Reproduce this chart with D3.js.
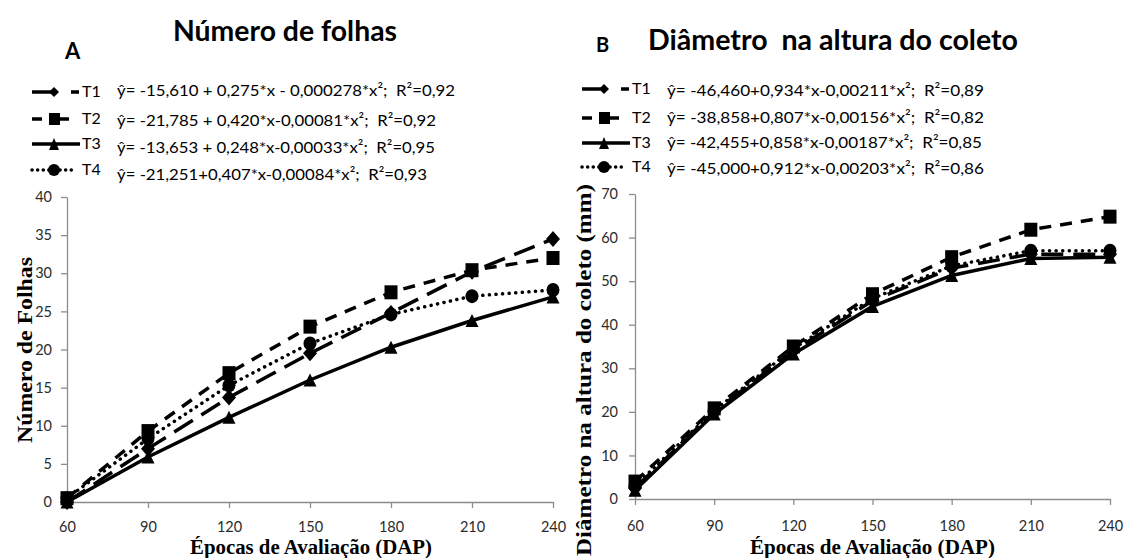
<!DOCTYPE html>
<html>
<head>
<meta charset="utf-8">
<script src="https://cdn.jsdelivr.net/npm/d3@7"></script>
<style>
  html, body { margin: 0; padding: 0; background: #fff; }
  svg { display: block; }
</style>
</head>
<body>
<svg id="chart" width="1126" height="558"></svg>
<script>
// Evaluation times (days after planting)
const dap = [60, 90, 120, 150, 180, 210, 240];

// Panel A – number of leaves per treatment
const folhasT1 = [0, 7.0, 13.7, 19.5, 24.8, 30.2, 34.5];
const folhasT2 = [0.5, 9.3, 16.9, 23.0, 27.5, 30.4, 32.0];
const folhasT3 = [0, 5.9, 11.1, 16.0, 20.3, 23.8, 26.9];
const folhasT4 = [0.5, 8.3, 15.3, 20.8, 24.6, 27.0, 27.8];

// Panel B – collar diameter (mm) per treatment
const diamT1 = [2.5, 20.0, 34.0, 45.5, 53.0, 56.2, 56.2];
const diamT2 = [4.0, 20.8, 35.0, 47.0, 55.5, 61.8, 64.8];
const diamT3 = [2.0, 19.5, 33.3, 44.2, 51.3, 55.2, 55.5];
const diamT4 = [3.0, 20.3, 34.5, 46.0, 53.5, 57.0, 57.0];

const treatments = ["T1", "T2", "T3", "T4"];

const ticksFolhas = [0, 5, 10, 15, 20, 25, 30, 35, 40];
const ticksDiam = [0, 10, 20, 30, 40, 50, 60, 70];

// Fitted regression equations (non-breaking space keeps the double gap before R²)
const eqFolhas = [
  "ŷ= -15,610 + 0,275*x - 0,000278*x²;\u00a0 R²=0,92",
  "ŷ= -21,785 + 0,420*x-0,00081*x²;\u00a0 R²=0,92",
  "ŷ= -13,653 + 0,248*x-0,00033*x²;\u00a0 R²=0,95",
  "ŷ= -21,251+0,407*x-0,00084*x²;\u00a0 R²=0,93"
];
const eqDiam = [
  "ŷ= -46,460+0,934*x-0,00211*x²;\u00a0 R²=0,89",
  "ŷ= -38,858+0,807*x-0,00156*x²;\u00a0 R²=0,82",
  "ŷ= -42,455+0,858*x-0,00187*x²;\u00a0 R²=0,85",
  "ŷ= -45,000+0,912*x-0,00203*x²;\u00a0 R²=0,86"
];

const svg = d3.select("#chart");
svg.append("rect").attr("width", 1126).attr("height", 558).attr("fill", "#fff");

const sansFont = "Lato, 'Open Sans', sans-serif";
const serifFont = "'Liberation Serif', 'DejaVu Serif', serif";

// Line styles per treatment
const lineStyle = {
  T1: { dash: "22,10", cap: "butt" },
  T2: { dash: "12,9", cap: "butt" },
  T3: { dash: null, cap: "butt" },
  T4: { dash: "0.1,6.5", cap: "round" }
};
const legendDash = {
  T1: "22,17",
  T2: "10,7,20",
  T3: null,
  T4: "0.1,5.5"
};

// Marker shapes (half width w, half height h)
function marker(g, kind, cx, cy, w, h) {
  if (kind === "T1") {
    g.append("path").attr("d", `M${cx},${cy - h}L${cx + w},${cy}L${cx},${cy + h}L${cx - w},${cy}Z`).attr("fill", "#000");
  } else if (kind === "T2") {
    g.append("rect").attr("x", cx - w).attr("y", cy - h).attr("width", 2 * w).attr("height", 2 * h).attr("fill", "#000");
  } else if (kind === "T3") {
    g.append("path").attr("d", `M${cx},${cy - h}L${cx + w},${cy + h}L${cx - w},${cy + h}Z`).attr("fill", "#000");
  } else {
    g.append("ellipse").attr("cx", cx).attr("cy", cy).attr("rx", w).attr("ry", h).attr("fill", "#000");
  }
}
const plotMarkerSize = { T1: [7, 8], T2: [6.5, 7], T3: [6.5, 6.5], T4: [6.5, 7] };
const legendMarkerSize = { T1: [5, 5], T2: [5.5, 6], T3: [5, 6], T4: [6, 6] };

function drawPanel(opt) {
  const x = d3.scaleLinear().domain([60, 240]).range(opt.xRange);
  const y = d3.scaleLinear().domain([0, opt.yMax]).range(opt.yRange);
  const g = svg.append("g");

  // Axes
  const yAxis = d3.axisLeft(y).tickValues(opt.yTicks).tickSize(6).tickSizeOuter(0).tickPadding(opt.yPad);
  const xAxis = d3.axisBottom(x).tickValues(dap).tickSize(6).tickSizeOuter(0).tickPadding(opt.xPad);
  const ya = g.append("g").attr("transform", `translate(${opt.xRange[0]},0)`).call(yAxis);
  const xa = g.append("g").attr("transform", `translate(0,${opt.yRange[0]})`).call(xAxis);
  [ya, xa].forEach(a => {
    a.selectAll("path.domain, line").attr("stroke", "#8c8c8c").attr("stroke-width", 1.3);
    a.selectAll("text").attr("font-family", sansFont).attr("font-size", 14.5).attr("fill", "#2b2b2b");
  });

  // Series lines
  const line = d3.line().x((d, i) => x(dap[i])).y(d => y(d));
  opt.series.forEach((vals, k) => {
    const t = treatments[k];
    g.append("path")
      .attr("d", line(vals))
      .attr("fill", "none")
      .attr("stroke", "#000")
      .attr("stroke-width", 3.5)
      .attr("stroke-linecap", lineStyle[t].cap)
      .attr("stroke-dasharray", lineStyle[t].dash);
  });
  // Markers on top
  opt.series.forEach((vals, k) => {
    const t = treatments[k];
    const mg = g.append("g");
    vals.forEach((v, i) => marker(mg, t, x(dap[i]), y(v), plotMarkerSize[t][0], plotMarkerSize[t][1]));
  });

  // Legend
  const lx = opt.legendX;
  treatments.forEach((t, k) => {
    const base = opt.legendBase[k];
    const cy = base - 5;
    const lg = g.append("g");
    const x2 = t === "T1" ? lx + 47 : t === "T2" ? lx + 37 : t === "T3" ? lx + 48 : lx + 40;
    lg.append("line")
      .attr("x1", lx).attr("x2", x2).attr("y1", cy).attr("y2", cy)
      .attr("stroke", "#000").attr("stroke-width", 3.5)
      .attr("stroke-linecap", t === "T4" ? "round" : "butt")
      .attr("stroke-dasharray", legendDash[t]);
    const mx = t === "T2" ? lx + 22.5 : lx + 22;
    marker(lg, t, mx, cy, legendMarkerSize[t][0], legendMarkerSize[t][1]);
    lg.append("text").attr("x", lx + 50).attr("y", base)
      .attr("font-family", sansFont).attr("font-size", 16).attr("fill", "#000").text(t);
    g.append("text").attr("x", opt.eqX).attr("y", opt.eqBase[k])
      .attr("font-family", sansFont).attr("font-size", 16).attr("fill", "#000")
      .attr("textLength", opt.eqLen[k]).attr("lengthAdjust", "spacingAndGlyphs")
      .text(opt.eqs[k]);
  });

  // Titles
  g.append("text").attr("x", opt.titleX).attr("y", opt.titleY)
    .attr("font-family", sansFont).attr("font-weight", 700).attr("font-size", 28)
    .attr("textLength", opt.titleLen).attr("lengthAdjust", "spacingAndGlyphs")
    .text(opt.title);
  g.append("text").attr("x", opt.letterX).attr("y", opt.letterY)
    .attr("font-family", sansFont).attr("font-weight", 700).attr("font-size", opt.letterSize)
    .text(opt.letter);

  // Axis titles
  g.append("text").attr("x", opt.xTitleX).attr("y", 554)
    .attr("font-family", serifFont).attr("font-weight", 700).attr("font-size", 20)
    .attr("textLength", opt.xTitleLen).attr("lengthAdjust", "spacingAndGlyphs")
    .text("Épocas de Avaliação (DAP)");
  g.append("text")
    .attr("transform", `translate(${opt.yTitleX},${opt.yTitleY}) rotate(-90)`)
    .attr("text-anchor", "middle")
    .attr("font-family", serifFont).attr("font-weight", 700).attr("font-size", 21)
    .attr("textLength", opt.yTitleLen).attr("lengthAdjust", "spacingAndGlyphs")
    .text(opt.yTitle);
}

drawPanel({
  xRange: [67, 553], yRange: [502, 197], yMax: 40, yTicks: ticksFolhas, yPad: 9, xPad: 14,
  series: [folhasT1, folhasT2, folhasT3, folhasT4],
  legendX: 32, legendBase: [97, 124, 149, 175],
  eqX: 117, eqBase: [96, 126, 153, 180], eqLen: [338, 319, 318, 310], eqs: eqFolhas,
  title: "Número de folhas", titleX: 173, titleY: 41, titleLen: 224,
  letter: "A", letterX: 65, letterY: 59, letterSize: 22,
  xTitleX: 190, xTitleLen: 242,
  yTitle: "Número de Folhas", yTitleX: 32, yTitleY: 350, yTitleLen: 186
});

drawPanel({
  xRange: [635, 1110], yRange: [499, 194], yMax: 70, yTicks: ticksDiam, yPad: 11, xPad: 16,
  series: [diamT1, diamT2, diamT3, diamT4],
  legendX: 582, legendBase: [94, 123, 148, 172],
  eqX: 667, eqBase: [96, 123, 148, 174], eqLen: [317, 317, 315, 317], eqs: eqDiam,
  title: "Diâmetro\u00a0 na altura do coleto", titleX: 648, titleY: 50, titleLen: 370,
  letter: "B", letterX: 596, letterY: 52, letterSize: 20,
  xTitleX: 750, xTitleLen: 245,
  yTitle: "Diâmetro na altura do coleto (mm)", yTitleX: 591, yTitleY: 370, yTitleLen: 372
});
</script>
</body>
</html>
